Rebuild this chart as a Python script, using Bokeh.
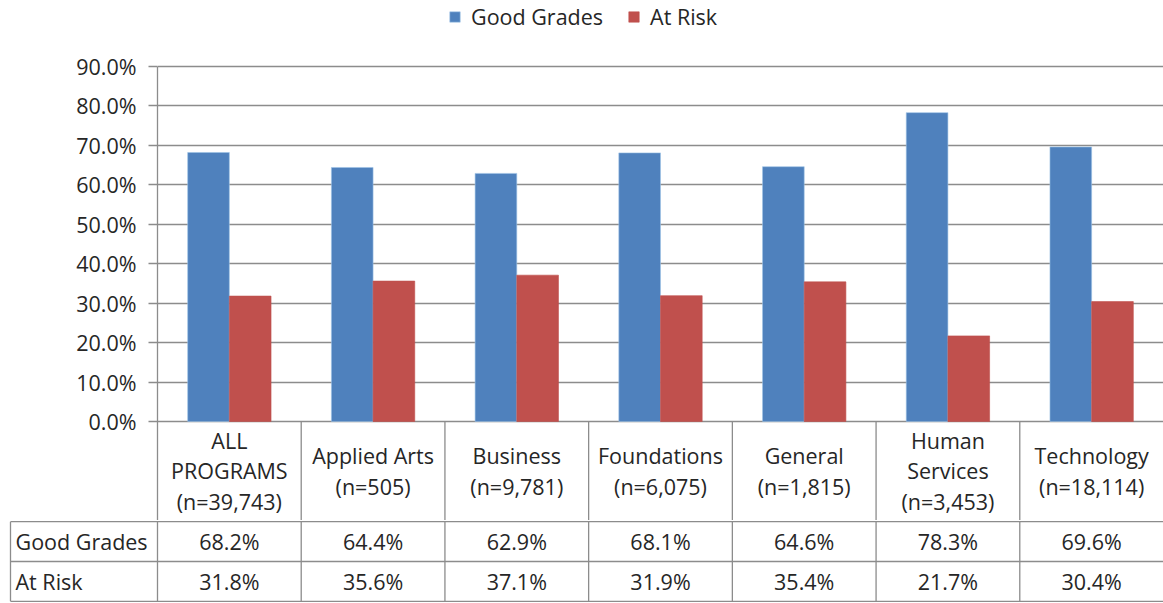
from bokeh.plotting import figure
from bokeh.models import (Range1d, FixedTicker, PrintfTickFormatter, Legend,
                          LegendItem, ColumnDataSource)
from bokeh.transform import dodge
from bokeh.core.properties import value
from bokeh.embed import file_html
from bokeh.resources import INLINE

# ---------------- data ----------------
categories = ["ALL\nPROGRAMS", "Applied Arts", "Business", "Foundations",
              "General", "Human\nServices", "Technology"]
n_counts = ["39,743", "505", "9,781", "6,075", "1,815", "3,453", "18,114"]
good_grades = [68.2, 64.4, 62.9, 68.1, 64.6, 78.3, 69.6]
at_risk = [31.8, 35.6, 37.1, 31.9, 35.4, 21.7, 30.4]
series_names = ["Good Grades", "At Risk"]
y_ticks = [0, 10, 20, 30, 40, 50, 60, 70, 80, 90]

# ---------------- style ----------------
FONT = "Open Sans"
FS = "21.5px"
TXT = "#262626"
BLUE = "#4F81BD"
RED = "#C0504D"
GRID = "#8c8c8c"

W = 1163
HA = 520
HB = 82
LEFT_A = 157
UNIT = (W - LEFT_A) / len(categories)        # px per category
Y_PX = 355 / 90.0                             # px per percent
Y_TOP = y_ticks[-1] + 66 / Y_PX
Y_BOT = -(HA - 66 - 355) / Y_PX

xs = list(range(len(categories)))
labels = [f"{c}\n(n={n})" for c, n in zip(categories, n_counts)]

src = ColumnDataSource(dict(x=xs, good=good_grades, risk=at_risk, label=labels,
                            good_txt=[f"{v:.1f}%" for v in good_grades],
                            risk_txt=[f"{v:.1f}%" for v in at_risk]))

# ---------------- chart figure ----------------
p = figure(width=W, height=HA, output_backend="svg", toolbar_location=None,
           x_range=Range1d(-0.5, len(categories) - 0.5),
           y_range=Range1d(Y_BOT, Y_TOP),
           x_axis_location=None, y_axis_location="left",
           min_border_left=LEFT_A, min_border_right=0,
           min_border_top=0, min_border_bottom=0)
p.outline_line_color = None
p.xgrid.visible = False
p.ygrid.ticker = FixedTicker(ticks=y_ticks)
p.ygrid.grid_line_color = GRID
p.ygrid.grid_line_width = 1.3

yax = p.yaxis[0]
yax.ticker = FixedTicker(ticks=y_ticks)
yax.formatter = PrintfTickFormatter(format="%.1f%%")
yax.bounds = (Y_BOT, y_ticks[-1])
yax.axis_line_color = GRID
yax.axis_line_width = 1.3
yax.major_tick_line_color = GRID
yax.major_tick_line_width = 1.3
yax.major_tick_out = 9
yax.major_tick_in = 0
yax.minor_tick_line_color = None
yax.major_label_standoff = 12
yax.major_label_text_font = FONT
yax.major_label_text_font_size = FS
yax.major_label_text_color = TXT

r_good = p.vbar(x=dodge("x", -0.145), top="good", width=0.29, source=src,
                fill_color=BLUE, line_color="#9dc3e6", line_width=0.6)
r_risk = p.vbar(x=dodge("x", 0.145), top="risk", width=0.29, source=src,
                fill_color=RED, line_color=RED, line_width=0.6)

# category label cells
bx = [i + 0.5 for i in xs[:-1]]
p.segment(x0=bx, y0=[0] * len(bx), x1=bx, y1=[Y_BOT] * len(bx),
          line_color=GRID, line_width=1.3)
p.text(x="x", y=Y_BOT / 2, text="label", source=src, text_align="center",
       text_baseline="middle", text_font=value(FONT), text_font_size=FS,
       text_color=TXT, text_line_height=1.04)

legend = Legend(items=[LegendItem(label=series_names[0], renderers=[r_good]),
                       LegendItem(label=series_names[1], renderers=[r_risk])],
                orientation="horizontal", location=(291, HA - 31),
                border_line_color=None, background_fill_alpha=0,
                padding=0, margin=0, spacing=24, label_standoff=10,
                glyph_width=13, glyph_height=13, label_height=22,
                label_text_font=FONT, label_text_font_size=FS,
                label_text_color=TXT)
p.add_layout(legend)

# ---------------- table figure ----------------
LEFT_B = 0
x_start = (len(categories) - 0.5) - (W - LEFT_B) / UNIT
hdr_left = -0.5 - 147 / UNIT
q = figure(width=W, height=HB, output_backend="svg", toolbar_location=None,
           x_range=Range1d(x_start, len(categories) - 0.5),
           y_range=Range1d(-0.03, 2.03),
           x_axis_location=None, y_axis_location=None,
           min_border_left=LEFT_B, min_border_right=0,
           min_border_top=0, min_border_bottom=0)
q.outline_line_color = None
q.grid.visible = False

vx = [hdr_left] + [i - 0.5 for i in xs]
q.segment(x0=vx, y0=[0] * len(vx), x1=vx, y1=[2] * len(vx),
          line_color=GRID, line_width=1.3)
hy = [0, 1, 2]
q.segment(x0=[hdr_left] * 3, y0=hy, x1=[len(categories)] * 3, y1=hy,
          line_color=GRID, line_width=1.3)
q.text(x=[hdr_left + 0.035] * 2, y=[1.5, 0.5], text=series_names,
       text_align="left", text_baseline="middle", text_font=value(FONT),
       text_font_size=FS, text_color=TXT)
q.text(x="x", y=1.5, text="good_txt", source=src, text_align="center",
       text_baseline="middle", text_font=value(FONT), text_font_size=FS,
       text_color=TXT)
q.text(x="x", y=0.5, text="risk_txt", source=src, text_align="center",
       text_baseline="middle", text_font=value(FONT), text_font_size=FS,
       text_color=TXT)

open("out.html", "w").write(file_html([p, q], INLINE))
